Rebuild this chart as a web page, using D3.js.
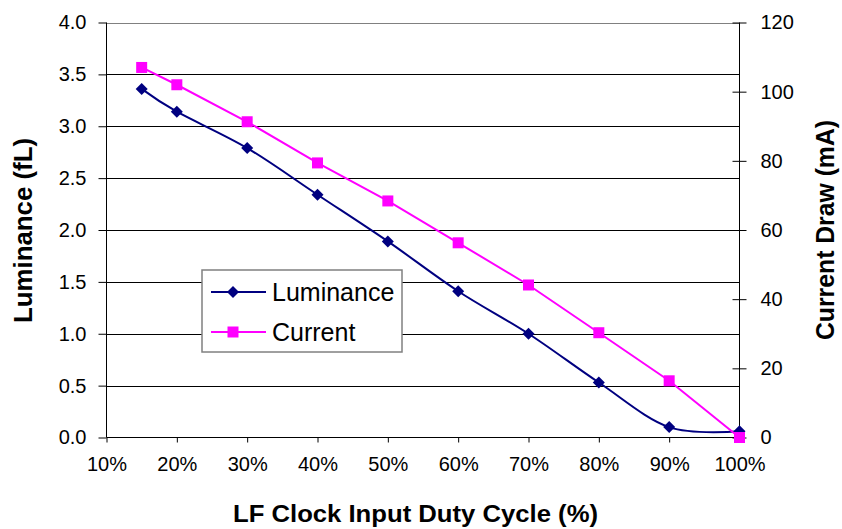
<!DOCTYPE html>
<html>
<head>
<meta charset="utf-8">
<script src="https://cdn.jsdelivr.net/npm/d3@7"></script>
<style>
  body { margin: 0; background: #fff; }
  text { font-family: Arial, "Liberation Sans", sans-serif; }
</style>
</head>
<body>
<svg id="chart" width="842" height="529"></svg>
<script>
// duty cycle (%) for each sample
const duty = [15, 20, 30, 40, 50, 60, 70, 80, 90, 100];
const luminance = [3.36, 3.14, 2.79, 2.34, 1.89, 1.41, 1.00, 0.53, 0.10, 0.06];
const current = [107, 102, 91.3, 79.4, 68.4, 56.3, 44.1, 30.3, 16.4, 0];
const xTicks = [10, 20, 30, 40, 50, 60, 70, 80, 90, 100];
const leftTicks = [0, 0.5, 1, 1.5, 2, 2.5, 3, 3.5, 4];
const rightTicks = [0, 20, 40, 60, 80, 100, 120];

const svg = d3.select("#chart");
const margin = { left: 106.5, right: 842 - 739.5, top: 22.5, bottom: 529 - 437.5 };
const W = 842 - margin.left - margin.right;
const H = 529 - margin.top - margin.bottom;
const FONT = "Arial, 'Liberation Sans', sans-serif";

const x = d3.scaleLinear().domain([10, 100]).range([0, W]);
const yL = d3.scaleLinear().domain([0, 4]).range([H, 0]);
const yR = d3.scaleLinear().domain([0, 120]).range([H, 0]);

const g = svg.append("g").attr("transform", `translate(${margin.left},${margin.top})`);

// gridlines
g.append("g")
  .selectAll("line")
  .data(leftTicks.filter(d => d > 0))
  .enter()
  .append("line")
  .attr("x1", 0).attr("x2", W)
  .attr("y1", d => Math.round(yL(d) + margin.top) - margin.top + 0.5)
  .attr("y2", d => Math.round(yL(d) + margin.top) - margin.top + 0.5)
  .attr("stroke", d => d === 4 ? "#808080" : "#000")
  .attr("stroke-width", 1);

// left axis
const axL = g.append("g")
  .call(d3.axisLeft(yL).tickValues(leftTicks).tickFormat(d3.format(".1f")).tickSize(8).tickPadding(12));
axL.select(".domain").attr("d", `M0,${H}V0`).attr("stroke", "#000");
axL.selectAll("text").attr("font-size", 20).attr("fill", "#000").attr("font-family", FONT);

// right axis
const axR = g.append("g")
  .attr("transform", `translate(${W},0)`)
  .call(d3.axisRight(yR).tickValues(rightTicks).tickSize(7).tickPadding(14));
axR.select(".domain").attr("d", `M0,${H}V0`).attr("stroke", "#000");
axR.selectAll(".tick line").attr("x1", -7);
axR.selectAll("text").attr("font-size", 20).attr("fill", "#000").attr("font-family", FONT);

// bottom axis
const axB = g.append("g")
  .attr("transform", `translate(0,${H})`)
  .call(d3.axisBottom(x).tickValues(xTicks).tickFormat(d => d + "%").tickSize(5).tickPadding(14));
axB.select(".domain").attr("d", `M0,0H${W}`).attr("stroke", "#000");
axB.selectAll("text").attr("font-size", 20).attr("fill", "#000").attr("font-family", FONT);

// series
const lumData = duty.map((d, i) => [d, luminance[i]]);
const curData = duty.map((d, i) => [d, current[i]]);

g.append("path")
  .datum(lumData)
  .attr("fill", "none")
  .attr("stroke", "#000080")
  .attr("stroke-width", 2)
  .attr("d", d3.line().x(d => x(d[0])).y(d => yL(d[1])).curve(d3.curveCatmullRom.alpha(0)));

g.append("path")
  .datum(curData)
  .attr("fill", "none")
  .attr("stroke", "#FF00FF")
  .attr("stroke-width", 2)
  .attr("d", d3.line().x(d => x(d[0])).y(d => yR(d[1])));

// diamond = square rotated 45deg
const diamond = d3.symbol().type(d3.symbolSquare).size(72);
const square = d3.symbol().type(d3.symbolSquare).size(121);

g.append("g")
  .selectAll("path")
  .data(lumData)
  .enter()
  .append("path")
  .attr("transform", d => `translate(${x(d[0])},${yL(d[1])}) rotate(45)`)
  .attr("d", diamond)
  .attr("fill", "#000080");

g.append("g")
  .selectAll("path")
  .data(curData)
  .enter()
  .append("path")
  .attr("transform", d => `translate(${x(d[0])},${yR(d[1])})`)
  .attr("d", square)
  .attr("fill", "#FF00FF");

// legend
const leg = svg.append("g").attr("transform", "translate(202,270)");
leg.append("rect")
  .attr("width", 200).attr("height", 82)
  .attr("fill", "#fff").attr("stroke", "#808080").attr("stroke-width", 1.5);
const items = [
  { name: "Luminance", color: "#000080", sym: "diamond", y: 22 },
  { name: "Current", color: "#FF00FF", sym: "square", y: 62 }
];
items.forEach(it => {
  leg.append("line")
    .attr("x1", 9).attr("x2", 64)
    .attr("y1", it.y).attr("y2", it.y)
    .attr("stroke", it.color).attr("stroke-width", 2);
  leg.append("path")
    .attr("transform", it.sym === "diamond" ? `translate(31,${it.y}) rotate(45)` : `translate(31,${it.y})`)
    .attr("d", it.sym === "diamond" ? diamond() : square())
    .attr("fill", it.color);
  leg.append("text")
    .attr("x", 70).attr("y", it.y)
    .attr("dy", "0.35em")
    .attr("font-size", 25)
    .attr("fill", "#000")
    .text(it.name);
});

// axis titles
svg.append("text")
  .attr("transform", `translate(32,230.5) rotate(-90)`)
  .attr("text-anchor", "middle")
  .attr("font-size", 25)
  .attr("font-weight", "bold")
  .attr("textLength", 185)
  .attr("lengthAdjust", "spacingAndGlyphs")
  .text("Luminance (fL)");

svg.append("text")
  .attr("transform", `translate(834,230) rotate(-90)`)
  .attr("text-anchor", "middle")
  .attr("font-size", 25)
  .attr("font-weight", "bold")
  .attr("textLength", 220)
  .attr("lengthAdjust", "spacingAndGlyphs")
  .text("Current Draw (mA)");

svg.append("text")
  .attr("x", 415.5).attr("y", 522)
  .attr("text-anchor", "middle")
  .attr("font-size", 24)
  .attr("font-weight", "bold")
  .attr("textLength", 365)
  .attr("lengthAdjust", "spacingAndGlyphs")
  .text("LF Clock Input Duty Cycle (%)");
</script>
</body>
</html>
